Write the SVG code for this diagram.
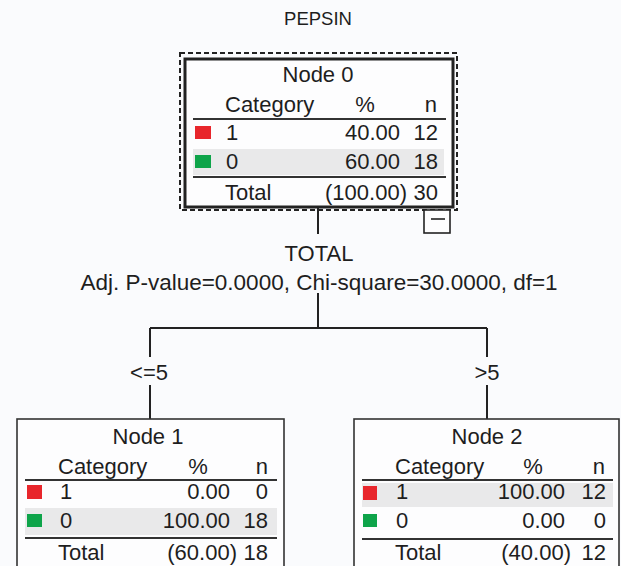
<svg xmlns="http://www.w3.org/2000/svg" width="621" height="566" viewBox="0 0 621 566">
<style>
text{font-family:"Liberation Sans",Arial,sans-serif;font-size:22px;fill:#1e1e1e}
.m{text-anchor:middle}
.e{text-anchor:end}
.box{fill:#fdfdfe;stroke:#333;stroke-width:1.6}
.rule{stroke:#333;stroke-width:2}
.band{fill:#e9e9ea}
.red{fill:#e8262c}
.grn{fill:#0ea44a}
.conn{stroke:#222;stroke-width:2;fill:none}
</style>
<rect width="621" height="566" fill="#fafbfd"/>
<text class="m" x="318" y="25" style="font-size:18.5px">PEPSIN</text>

<g id="connectors">
<path class="conn" d="M318 207V234M318 293V328M150 328H487M150 328V357M487 328V357M150 385V419M487 385V419"/>
</g>

<g id="split-labels">
<text class="m" x="319" y="261">TOTAL</text>
<text class="m" x="319" y="290" style="font-size:22.5px">Adj. P-value=0.0000, Chi-square=30.0000, df=1</text>
<text class="m" x="149" y="380">&lt;=5</text>
<text class="m" x="487" y="380">&gt;5</text>
</g>

<g id="node0">
<rect x="180" y="53" width="277" height="157" fill="none" stroke="#222" stroke-width="2" stroke-dasharray="5,3"/>
<rect x="185" y="59" width="268" height="148" fill="#fdfdfe" stroke="#222" stroke-width="3"/>
<rect class="band" x="193" y="149" width="251" height="26"/>
<text class="m" x="318" y="82">Node 0</text>
<text x="225" y="112">Category</text>
<text class="m" x="365" y="112">%</text>
<text class="e" x="437" y="112">n</text>
<line class="rule" x1="193" y1="119" x2="446" y2="119"/>
<rect class="red" x="195" y="126" width="16" height="13"/>
<text x="226" y="140">1</text>
<text class="e" x="400" y="140">40.00</text>
<text class="e" x="438" y="140">12</text>
<rect class="grn" x="195" y="155" width="16" height="13"/>
<text x="226" y="169">0</text>
<text class="e" x="400" y="169">60.00</text>
<text class="e" x="438" y="169">18</text>
<line class="rule" x1="193" y1="177" x2="446" y2="177"/>
<text x="225" y="200">Total</text>
<text class="e" x="407" y="200">(100.00)</text>
<text class="e" x="438" y="200">30</text>
<rect x="424" y="210" width="26" height="23" fill="#fdfdfe" stroke="#222" stroke-width="1.6"/>
<line x1="431" y1="219" x2="445" y2="219" stroke="#222" stroke-width="1.6"/>
</g>

<g id="node1">
<rect class="box" x="17" y="419" width="267" height="160"/>
<rect class="band" x="25" y="508" width="252" height="27"/>
<text class="m" x="148" y="444">Node 1</text>
<text x="58" y="474">Category</text>
<text class="m" x="198" y="474">%</text>
<text class="e" x="268" y="474">n</text>
<line class="rule" x1="25" y1="480" x2="277" y2="480"/>
<rect class="red" x="27" y="485" width="15" height="14"/>
<text x="60" y="499">1</text>
<text class="e" x="230" y="499">0.00</text>
<text class="e" x="268" y="499">0</text>
<rect class="grn" x="27" y="514" width="15" height="13"/>
<text x="60" y="528">0</text>
<text class="e" x="230" y="528">100.00</text>
<text class="e" x="268" y="528">18</text>
<line class="rule" x1="25" y1="538" x2="277" y2="538"/>
<text x="58" y="560">Total</text>
<text class="e" x="237" y="560">(60.00)</text>
<text class="e" x="268" y="560">18</text>
</g>

<g id="node2">
<rect class="box" x="354" y="419" width="265" height="160"/>
<rect class="band" x="362" y="483" width="251" height="24"/>
<text class="m" x="487" y="444">Node 2</text>
<text x="395" y="474">Category</text>
<text class="m" x="533" y="474">%</text>
<text class="e" x="605" y="474">n</text>
<line class="rule" x1="362" y1="480" x2="613" y2="480"/>
<rect class="red" x="363" y="486" width="14" height="14"/>
<text x="396" y="499">1</text>
<text class="e" x="565" y="499">100.00</text>
<text class="e" x="606" y="499">12</text>
<rect class="grn" x="363" y="514" width="14" height="13"/>
<text x="396" y="528">0</text>
<text class="e" x="565" y="528">0.00</text>
<text class="e" x="606" y="528">0</text>
<line class="rule" x1="362" y1="539" x2="613" y2="539"/>
<text x="395" y="560">Total</text>
<text class="e" x="571" y="560">(40.00)</text>
<text class="e" x="606" y="560">12</text>
</g>
</svg>
